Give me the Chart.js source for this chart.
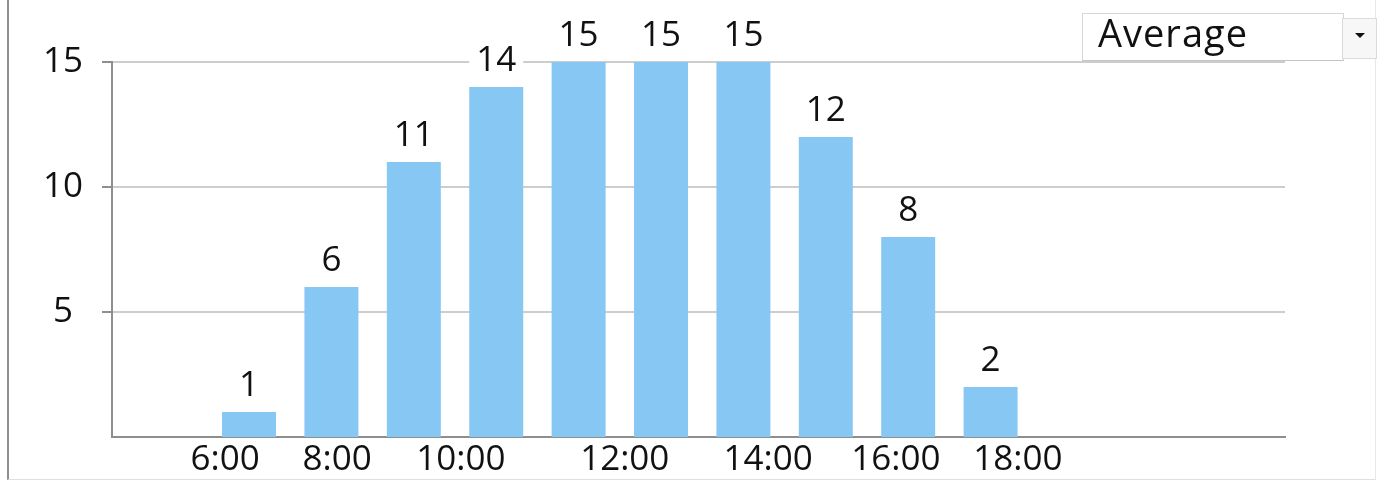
<!DOCTYPE html>
<html>
<head>
<meta charset="utf-8">
<script src="https://cdn.jsdelivr.net/npm/chart.js@4.4.1/dist/chart.umd.min.js"></script>
<style>
  html, body { margin: 0; padding: 0; background: #fff; }
  #wrap { position: relative; width: 1381px; height: 483px; overflow: hidden; font-family: "Open Sans", sans-serif; }
  #frame { position: absolute; left: 7px; top: -2px; width: 1366px; height: 481px;
           border-left: 2px solid #8e8e8e; border-bottom: 1px solid #e0e0e0; border-right: 1px solid #e8e8e8; }
  canvas { position: absolute; left: 0; top: 0; }
  #picker { position: absolute; left: 1082px; top: 13px; width: 260px; height: 46px;
            border: 1px solid #d6d6d6; border-bottom-color: #c4c4c4; background: #fff; }
  #picker span { position: absolute; left: 15px; top: -1px; font-size: 38px; line-height: 38px;
                 font-weight: 500; letter-spacing: 1px; color: #111; }
  #btn { position: absolute; left: 1342px; top: 18px; width: 33px; height: 39px;
         border: 1px solid #dadada; background: #f7f7f7; }
  #btn:after { content: ""; position: absolute; left: 12px; top: 14px;
               border-left: 5px solid transparent; border-right: 5px solid transparent; border-top: 5px solid #111; }
</style>
</head>
<body>
<div id="wrap">
  <div id="frame"></div>
  <canvas id="avgChart" width="1381" height="483"></canvas>
  <div id="picker"><span>Average</span></div>
  <div id="btn"></div>
</div>
<script>
// bars sit at index positions 0..9
const barPos = [0, 1, 2, 3, 4, 5, 6, 7, 8, 9];
const barValues = [1, 6, 11, 14, 15, 15, 15, 12, 8, 2];
// time labels along the bottom and where they fall (in bar index units)
const timeLabels = ["6:00", "8:00", "10:00", "12:00", "14:00", "16:00", "18:00"];
const timeTicks = [-0.29, 1.07, 2.57, 4.56, 6.3, 7.85, 9.33];
const yTicks = [5, 10, 15];

const FONT = '"Open Sans", sans-serif';

// value labels above each bar, on a white patch
const barLabels = {
  id: "barLabels",
  afterDatasetsDraw(chart) {
    const ctx = chart.ctx;
    const meta = chart.getDatasetMeta(0);
    ctx.save();
    ctx.font = "500 35px " + FONT;
    ctx.textAlign = "center";
    ctx.textBaseline = "alphabetic";
    meta.data.forEach((bar, i) => {
      const txt = String(barValues[i]);
      const w = ctx.measureText(txt).width;
      const base = bar.y - 16;
      ctx.fillStyle = "#fff";
      ctx.fillRect(bar.x - w / 2 - 7, base - 30, w + 14, 38);
      ctx.fillStyle = "#111";
      ctx.fillText(txt, bar.x, base);
    });
    ctx.restore();
  }
};

const ctx = document.getElementById("avgChart").getContext("2d");
const avgChart = new Chart(ctx, {
  type: "bar",
  data: {
    datasets: [
      {
        label: "Average",
        data: barPos.map((x, i) => ({ x: x, y: barValues[i] })),
        backgroundColor: "#86c7f3",
        borderWidth: 0,
        categoryPercentage: 1,
        barPercentage: 0.655,
      },
    ],
  },
  options: {
    responsive: false,
    animation: false,
    devicePixelRatio: 1,
    layout: { padding: { left: 0, right: 96, top: 62, bottom: 0 } },
    plugins: { legend: { display: false }, tooltip: { enabled: false } },
    scales: {
      x: {
        type: "linear",
        min: -1.663,
        max: 12.573,
        offset: false,
        afterBuildTicks: (scale) => {
          scale.ticks = timeTicks.map((v) => ({ value: v }));
        },
        afterFit: (scale) => { scale.height = 46; },
        grid: { display: false, drawTicks: false },
        border: { display: true, color: "#8e8e8e", width: 2 },
        ticks: {
          autoSkip: false,
          maxRotation: 0,
          padding: 2,
          color: "#111",
          font: { family: FONT, size: 35, weight: 500 },
          callback: (value, index) => timeLabels[index],
        },
      },
      y: {
        min: 0,
        max: 15,
        afterBuildTicks: (scale) => {
          scale.ticks = yTicks.map((v) => ({ value: v }));
        },
        afterFit: (scale) => { scale.width = 112; },
        grid: { color: "#cdcdcd", lineWidth: 2, tickLength: 10, tickColor: "#8e8e8e", tickWidth: 2 },
        border: { display: true, color: "#8e8e8e", width: 2 },
        ticks: {
          crossAlign: "center",
          padding: 19,
          color: "#111",
          font: { family: FONT, size: 35, weight: 500 },
        },
      },
    },
  },
  plugins: [barLabels],
});
</script>
</body>
</html>
